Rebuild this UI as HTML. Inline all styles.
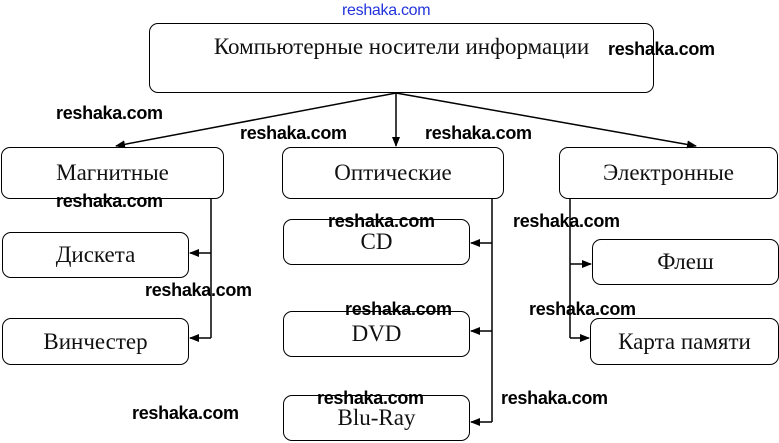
<!DOCTYPE html>
<html><head><meta charset="utf-8"><style>
body{margin:0;background:#fff;width:779px;height:443px;overflow:hidden;position:relative}
.b{position:absolute;border:1.5px solid #000;border-radius:9px;box-sizing:border-box;display:flex;align-items:center;justify-content:center;font-family:"Liberation Serif",serif;font-size:23px;color:#111}
.w{position:absolute;font-family:"Liberation Sans",sans-serif;font-weight:bold;font-size:18px;color:#000;letter-spacing:-0.3px}
svg{position:absolute;left:0;top:0}
</style></head><body>
<svg width="779" height="443">
<defs><marker id="a" markerWidth="10" markerHeight="8" refX="9" refY="4" orient="auto" markerUnits="userSpaceOnUse"><path d="M0,0 L10,4 L0,8 z" fill="#000"/></marker></defs>
<g stroke="#000" stroke-width="1.5" fill="none">
<line x1="396" y1="93" x2="116" y2="146" marker-end="url(#a)"/>
<line x1="396" y1="93" x2="396" y2="146" marker-end="url(#a)"/>
<line x1="396" y1="93" x2="696" y2="146" marker-end="url(#a)"/>
<polyline points="211,198 211,338"/>
<line x1="211" y1="253" x2="190" y2="253" marker-end="url(#a)"/>
<line x1="211" y1="338" x2="190" y2="338" marker-end="url(#a)"/>
<polyline points="492,198 492,422"/>
<line x1="492" y1="243" x2="471" y2="243" marker-end="url(#a)"/>
<line x1="492" y1="331" x2="471" y2="331" marker-end="url(#a)"/>
<line x1="492" y1="422" x2="471" y2="422" marker-end="url(#a)"/>
<polyline points="570,198 570,338"/>
<line x1="570" y1="264" x2="591" y2="264" marker-end="url(#a)"/>
<line x1="570" y1="338" x2="589" y2="338" marker-end="url(#a)"/>
</g></svg>
<div class="b" style="left:149px;top:23px;width:505px;height:70px;align-items:flex-start;padding-top:10px">Компьютерные носители информации</div>
<div class="b" style="left:1px;top:147px;width:223px;height:52px">Магнитные</div>
<div class="b" style="left:282px;top:147px;width:222px;height:52px">Оптические</div>
<div class="b" style="left:559px;top:147px;width:219px;height:52px">Электронные</div>
<div class="b" style="left:2px;top:232px;width:187px;height:46px">Дискета</div>
<div class="b" style="left:2px;top:318px;width:187px;height:47px">Винчестер</div>
<div class="b" style="left:283px;top:219px;width:187px;height:46px">CD</div>
<div class="b" style="left:283px;top:311px;width:187px;height:46px">DVD</div>
<div class="b" style="left:283px;top:395px;width:187px;height:46px">Blu-Ray</div>
<div class="b" style="left:592px;top:239px;width:187px;height:46px">Флеш</div>
<div class="b" style="left:590px;top:318px;width:189px;height:47px">Карта памяти</div>
<div class="w" style="left:342px;top:2px;color:#2233dd;font-weight:normal;font-size:16px">reshaka.com</div>
<div class="w" style="left:608px;top:39px">reshaka.com</div>
<div class="w" style="left:56px;top:103px">reshaka.com</div>
<div class="w" style="left:240px;top:123px">reshaka.com</div>
<div class="w" style="left:425px;top:123px">reshaka.com</div>
<div class="w" style="left:56px;top:191px">reshaka.com</div>
<div class="w" style="left:328px;top:211px">reshaka.com</div>
<div class="w" style="left:513px;top:211px">reshaka.com</div>
<div class="w" style="left:145px;top:280px">reshaka.com</div>
<div class="w" style="left:345px;top:299px">reshaka.com</div>
<div class="w" style="left:529px;top:299px">reshaka.com</div>
<div class="w" style="left:317px;top:388px">reshaka.com</div>
<div class="w" style="left:501px;top:388px">reshaka.com</div>
<div class="w" style="left:132px;top:403px">reshaka.com</div>
</body></html>
